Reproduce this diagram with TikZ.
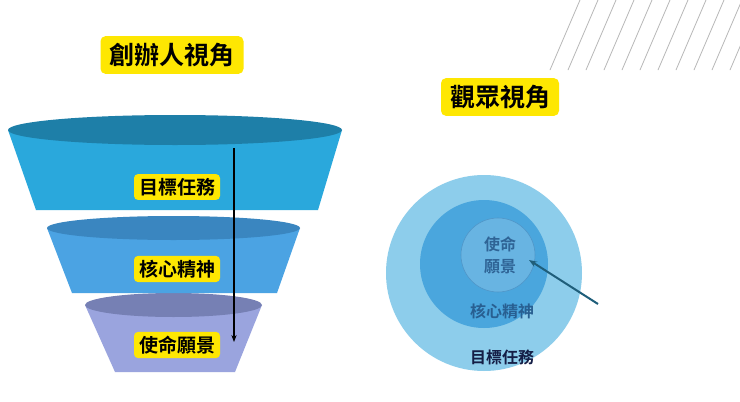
\documentclass[tikz,border=0pt]{standalone}
\usepackage{fontspec}
\newfontfamily\cjk{Noto Sans CJK TC}[BoldFont={Noto Sans CJK TC Bold}]
\usetikzlibrary{arrows.meta}
\begin{document}
\begin{tikzpicture}[x=1pt,y=-1pt,
 lab/.style={fill=yellow!90!orange,rounded corners=4pt,font=\cjk\bfseries\fontsize{19}{21}\selectfont,inner xsep=5pt,inner ysep=4pt},
 ttl/.style={fill=yellow!90!orange,rounded corners=5pt,font=\cjk\bfseries\fontsize{25}{27}\selectfont,inner xsep=9pt,inner ysep=7pt},
 ctext/.style={font=\cjk\bfseries\fontsize{16}{19}\selectfont}]
\fill[white] (0,0) rectangle (740,402);
\useasboundingbox (0,0) rectangle (740,402);
\foreach \i in {0,...,10} \draw[gray!55,line width=0.8pt] (550+18*\i,70) -- (580+18*\i,0);
\clip (0,0) rectangle (740,402);
% funnel
\fill[color={rgb,255:red,154;green,164;blue,222}] (85,305) -- (262,305) -- (235,372) -- (115,372) -- cycle;
\fill[color={rgb,255:red,118;green,128;blue,180}] (173.5,305) ellipse (88.5 and 12);
\fill[color={rgb,255:red,75;green,163;blue,227}] (47,228) -- (300,228) -- (277,293) -- (72,293) -- cycle;
\fill[color={rgb,255:red,58;green,134;blue,192}] (173.5,228) ellipse (126.5 and 12);
\fill[color={rgb,255:red,42;green,168;blue,220}] (8,130) -- (342,130) -- (318,210) -- (36,210) -- cycle;
\fill[color={rgb,255:red,30;green,127;blue,168}] (175,130) ellipse (167 and 15);
\node[lab] (l1) at (177,187) {目標任務};
\node[lab] (l2) at (177,269) {核心精神};
\node[lab] (l3) at (177,345) {使命願景};
\coordinate (a1) at (234,148); \coordinate (a2) at (234,342);
\draw[line width=1.3pt,-{Stealth[length=7pt]}] (a1) -- (a2);
\node[ttl] (t1) at (172,55) {創辦人視角};
\node[ttl] (t2) at (500,97) {觀眾視角};
% circles
\fill[color={rgb,255:red,141;green,205;blue,235}] (484,273) circle (98);
\fill[color={rgb,255:red,74;green,166;blue,221}] (484,264) circle (64);
\filldraw[fill={rgb,255:red,104;green,180;blue,226},draw={rgb,255:red,80;green,150;blue,200},line width=0.6pt] (498,255) circle (37);
\node[ctext,text={rgb,255:red,47;green,100;blue,150},align=center] (c1) at (500,255) {使命\\[3pt]願景};
\node[ctext,text={rgb,255:red,40;green,95;blue,145}] (c2) at (502,311) {核心精神};
\node[ctext,text={rgb,255:red,20;green,30;blue,70}] (c3) at (502,357) {目標任務};
\coordinate (b1) at (598,304); \coordinate (b2) at (529,260);
\draw[color={rgb,255:red,31;green,94;blue,122},line width=2pt,-{Stealth[length=8pt]}] (b1) -- (b2);
\end{tikzpicture}
\end{document}
